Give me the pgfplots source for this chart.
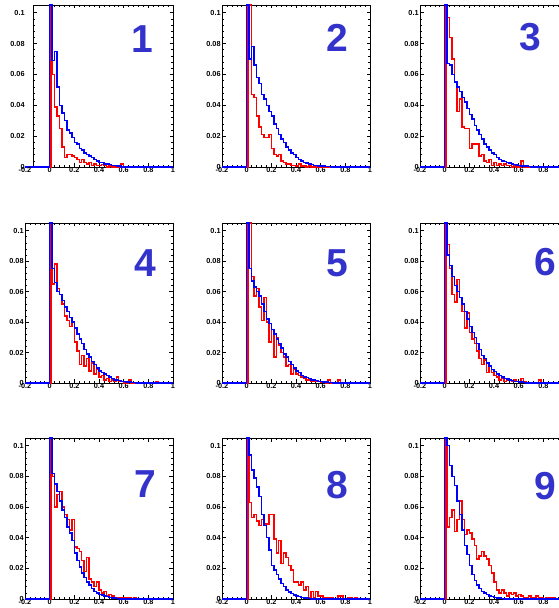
\documentclass[border=0pt]{standalone}
\usepackage{fontspec}
\setmainfont{Liberation Sans}
\usepackage{pgfplots}
\pgfplotsset{compat=1.18}
\definecolor{numblue}{RGB}{51,51,204}
\pgfplotsset{
 rootpanel/.style={
  anchor=south west, scale only axis, width=148pt,
  xmin=-0.2, xmax=1, ymin=0, ymax=0.105, clip=false,
  xtick={-0.2,0,0.2,0.4,0.6,0.8,1}, xticklabels={-0.2,0,0.2,0.4,0.6,0.8,1},
  ytick={0,0.02,0.04,0.06,0.08,0.1}, yticklabels={0,0.02,0.04,0.06,0.08,0.1},
  minor x tick num=4, minor y tick num=4,
  tick align=inside, major tick length=3.5pt, minor tick length=1.8pt,
  tick style={black, line width=0.5pt},
  axis line style={black, line width=0.7pt},
  ticklabel style={font=\fontsize{7.3}{8}\selectfont\bfseries},
  xticklabel style={inner sep=0.6pt},
  yticklabel style={inner sep=1.2pt},
 },
 hb/.style={const plot, blue, line width=1.5pt, mark=none},
 hr/.style={const plot, red, line width=1.5pt, mark=none},
}
\newcommand{\bignum}[2]{\node[numblue, font=\fontsize{39}{39}\selectfont\bfseries, inner sep=0pt] at (#1) {#2};}
\begin{document}
\begin{tikzpicture}[x=1pt,y=1pt]
% ---------- Panel 1 ----------
\begin{axis}[rootpanel, at={(33pt,441pt)}, width=140pt, height=162pt, xmin=-0.135,
  xtick={0,0.2,0.4,0.6,0.8,1}, xticklabels={0,0.2,0.4,0.6,0.8,1},
  yticklabel style={xshift=-7pt}]
\addplot[hr] coordinates {(-0.2,0)(0.012,0.105)(0.02,0.060)(0.04,0.039)(0.06,0.033)(0.08,0.025)(0.10,0.013)(0.12,0.006)(0.14,0.008)(0.16,0.008)(0.18,0.007)(0.20,0.006)(0.22,0.005)(0.24,0.003)(0.26,0.005)(0.28,0.003)(0.30,0.002)(0.32,0.003)(0.34,0.001)(0.36,0.002)(0.38,0.001)(0.40,0.001)(0.42,0.0015)(0.44,0.001)(0.46,0)(0.48,0.0005)(0.50,0)(0.58,0.002)(0.60,0)(1,0)};
\addplot[hb] coordinates {(-0.2,0)(0,0.105)(0.02,0.069)(0.04,0.075)(0.06,0.052)(0.08,0.040)(0.10,0.035)(0.12,0.030)(0.14,0.024)(0.16,0.022)(0.18,0.019)(0.20,0.016)(0.22,0.015)(0.24,0.012)(0.26,0.011)(0.28,0.009)(0.30,0.008)(0.32,0.007)(0.34,0.006)(0.36,0.005)(0.38,0.004)(0.40,0.003)(0.42,0.003)(0.44,0.002)(0.46,0.002)(0.48,0.0015)(0.50,0.001)(0.52,0.001)(0.54,0.0008)(0.56,0.0005)(0.58,0)(1,0)};
\node[anchor=north, font=\fontsize{7.3}{8}\selectfont\bfseries, inner sep=0.6pt] at (axis cs:-0.2,0) {-0.2};
\end{axis}
% ---------- Panel 2 ----------
\begin{axis}[rootpanel, at={(222pt,441pt)}, height=162pt]
\addplot[hr] coordinates {(-0.2,0)(0.012,0.105)(0.02,0.105)(0.04,0.047)(0.06,0.045)(0.08,0.033)(0.10,0.026)(0.12,0.021)(0.14,0.019)(0.16,0.019)(0.18,0.021)(0.20,0.012)(0.22,0.008)(0.24,0.007)(0.26,0.008)(0.28,0.004)(0.30,0.003)(0.32,0.002)(0.34,0.002)(0.36,0.001)(0.38,0.001)(0.40,0.0005)(0.42,0.002)(0.44,0.0005)(0.46,0.0005)(0.48,0)(0.50,0.0005)(0.52,0)(1,0)};
\addplot[hb] coordinates {(-0.2,0)(0,0.105)(0.02,0.070)(0.04,0.078)(0.06,0.066)(0.08,0.058)(0.10,0.054)(0.12,0.047)(0.14,0.044)(0.16,0.040)(0.18,0.036)(0.20,0.033)(0.22,0.028)(0.24,0.025)(0.26,0.021)(0.28,0.018)(0.30,0.016)(0.32,0.013)(0.34,0.011)(0.36,0.009)(0.38,0.008)(0.40,0.006)(0.42,0.005)(0.44,0.004)(0.46,0.003)(0.48,0.0025)(0.50,0.002)(0.52,0.0015)(0.54,0.001)(0.56,0.001)(0.58,0.0007)(0.60,0.0005)(0.62,0.0005)(0.64,0.0003)(0.66,0.0002)(0.68,0)(1,0)};
\end{axis}
% ---------- Panel 3 ----------
\begin{axis}[rootpanel, at={(420pt,441pt)}, height=162pt]
\addplot[hr] coordinates {(-0.2,0)(0.012,0.105)(0.02,0.097)(0.04,0.084)(0.06,0.070)(0.08,0.055)(0.10,0.036)(0.12,0.044)(0.14,0.026)(0.16,0.025)(0.18,0.025)(0.20,0.012)(0.22,0.015)(0.24,0.015)(0.26,0.015)(0.28,0.007)(0.30,0.008)(0.32,0.004)(0.34,0.003)(0.36,0.005)(0.38,0.001)(0.40,0.003)(0.42,0.001)(0.44,0.002)(0.46,0.001)(0.48,0.002)(0.50,0.001)(0.52,0.001)(0.54,0)(0.56,0.0005)(0.58,0)(0.62,0.004)(0.64,0)(1,0)};
\addplot[hb] coordinates {(-0.2,0)(0,0.105)(0.02,0.067)(0.04,0.066)(0.06,0.060)(0.08,0.055)(0.10,0.052)(0.12,0.049)(0.14,0.045)(0.16,0.042)(0.18,0.038)(0.20,0.034)(0.22,0.031)(0.24,0.027)(0.26,0.024)(0.28,0.021)(0.30,0.018)(0.32,0.015)(0.34,0.013)(0.36,0.011)(0.38,0.009)(0.40,0.008)(0.42,0.006)(0.44,0.005)(0.46,0.004)(0.48,0.0035)(0.50,0.003)(0.52,0.0025)(0.54,0.002)(0.56,0.0015)(0.58,0.0012)(0.60,0.001)(0.62,0.0008)(0.64,0.0006)(0.66,0.0005)(0.68,0.0003)(0.70,0)(1,0)};
\end{axis}
% ---------- Panel 4 ----------
\begin{axis}[rootpanel, at={(25pt,225pt)}, height=160pt]
\addplot[hr] coordinates {(-0.2,0)(0.012,0.105)(0.02,0.065)(0.04,0.078)(0.06,0.062)(0.08,0.058)(0.10,0.052)(0.12,0.044)(0.14,0.041)(0.16,0.037)(0.18,0.040)(0.20,0.027)(0.22,0.021)(0.24,0.012)(0.26,0.018)(0.28,0.011)(0.30,0.016)(0.32,0.008)(0.34,0.013)(0.36,0.006)(0.38,0.009)(0.40,0.004)(0.42,0.005)(0.44,0.002)(0.46,0.003)(0.48,0.001)(0.50,0.002)(0.52,0.001)(0.54,0.004)(0.56,0.001)(0.58,0.001)(0.60,0)(0.64,0.002)(0.66,0)(0.86,0.001)(0.88,0)(1,0)};
\addplot[hb] coordinates {(-0.2,0)(0,0.105)(0.02,0.075)(0.04,0.066)(0.06,0.060)(0.08,0.058)(0.10,0.054)(0.12,0.050)(0.14,0.047)(0.16,0.043)(0.18,0.040)(0.20,0.036)(0.22,0.032)(0.24,0.029)(0.26,0.026)(0.28,0.022)(0.30,0.019)(0.32,0.017)(0.34,0.014)(0.36,0.012)(0.38,0.010)(0.40,0.008)(0.42,0.007)(0.44,0.006)(0.46,0.005)(0.48,0.004)(0.50,0.003)(0.52,0.002)(0.54,0.002)(0.56,0.0015)(0.58,0.001)(0.60,0.001)(0.62,0.0007)(0.64,0.0005)(0.66,0.0003)(0.68,0.0002)(0.70,0)(1,0)};
\end{axis}
% ---------- Panel 5 ----------
\begin{axis}[rootpanel, at={(222pt,225pt)}, height=160pt]
\addplot[hr] coordinates {(-0.2,0)(0.012,0.105)(0.02,0.105)(0.04,0.070)(0.06,0.057)(0.08,0.062)(0.10,0.050)(0.12,0.041)(0.14,0.056)(0.16,0.040)(0.18,0.027)(0.20,0.035)(0.22,0.017)(0.24,0.030)(0.26,0.025)(0.28,0.020)(0.30,0.017)(0.32,0.011)(0.34,0.012)(0.36,0.006)(0.38,0.009)(0.40,0.006)(0.42,0.005)(0.44,0.004)(0.46,0.003)(0.48,0.002)(0.50,0.002)(0.52,0.001)(0.54,0.001)(0.56,0.001)(0.58,0.001)(0.60,0.0005)(0.62,0.001)(0.64,0)(0.66,0.002)(0.68,0)(0.74,0.002)(0.76,0)(1,0)};
\addplot[hb] coordinates {(-0.2,0)(0,0.105)(0.02,0.075)(0.04,0.067)(0.06,0.063)(0.08,0.060)(0.10,0.057)(0.12,0.052)(0.14,0.047)(0.16,0.042)(0.18,0.039)(0.20,0.035)(0.22,0.032)(0.24,0.029)(0.26,0.026)(0.28,0.023)(0.30,0.019)(0.32,0.017)(0.34,0.014)(0.36,0.012)(0.38,0.010)(0.40,0.008)(0.42,0.007)(0.44,0.005)(0.46,0.004)(0.48,0.0035)(0.50,0.003)(0.52,0.002)(0.54,0.002)(0.56,0.0015)(0.58,0.001)(0.60,0.001)(0.62,0.0007)(0.64,0.0005)(0.66,0.0003)(0.68,0.0002)(0.70,0)(1,0)};
\end{axis}
% ---------- Panel 6 ----------
\begin{axis}[rootpanel, at={(420pt,225pt)}, height=160pt]
\addplot[hr] coordinates {(-0.2,0)(0.012,0.105)(0.02,0.091)(0.04,0.075)(0.06,0.058)(0.08,0.053)(0.10,0.068)(0.12,0.056)(0.14,0.047)(0.16,0.036)(0.18,0.046)(0.20,0.033)(0.22,0.029)(0.24,0.026)(0.26,0.021)(0.28,0.016)(0.30,0.012)(0.32,0.015)(0.34,0.007)(0.36,0.011)(0.38,0.007)(0.40,0.005)(0.42,0.004)(0.44,0.002)(0.46,0.003)(0.48,0.001)(0.50,0.002)(0.52,0.002)(0.54,0.001)(0.56,0.002)(0.58,0.001)(0.60,0.001)(0.62,0.003)(0.64,0.001)(0.66,0)(0.76,0.002)(0.78,0)(1,0)};
\addplot[hb] coordinates {(-0.2,0)(0,0.105)(0.02,0.084)(0.04,0.077)(0.06,0.070)(0.08,0.064)(0.10,0.060)(0.12,0.056)(0.14,0.052)(0.16,0.047)(0.18,0.042)(0.20,0.037)(0.22,0.033)(0.24,0.030)(0.26,0.026)(0.28,0.022)(0.30,0.018)(0.32,0.016)(0.34,0.013)(0.36,0.011)(0.38,0.009)(0.40,0.0075)(0.42,0.006)(0.44,0.005)(0.46,0.004)(0.48,0.003)(0.50,0.0025)(0.52,0.002)(0.54,0.0015)(0.56,0.001)(0.58,0.001)(0.60,0.0007)(0.62,0.0005)(0.64,0.0003)(0.66,0)(1,0)};
\end{axis}
% ---------- Panel 7 ----------
\begin{axis}[rootpanel, at={(25pt,9pt)}, height=161pt]
\addplot[hr] coordinates {(-0.2,0)(0.012,0.105)(0.02,0.080)(0.04,0.060)(0.06,0.068)(0.08,0.070)(0.10,0.060)(0.12,0.055)(0.14,0.052)(0.16,0.045)(0.18,0.052)(0.20,0.034)(0.22,0.033)(0.24,0.031)(0.26,0.025)(0.28,0.018)(0.30,0.027)(0.32,0.013)(0.34,0.011)(0.36,0.008)(0.38,0.011)(0.40,0.006)(0.42,0.004)(0.44,0.005)(0.46,0.002)(0.48,0.003)(0.50,0.002)(0.52,0.001)(0.54,0.001)(0.56,0.0005)(0.58,0.001)(0.60,0.0005)(0.62,0.0005)(0.64,0.0005)(0.66,0)(0.68,0.0005)(0.70,0)(1,0)};
\addplot[hb] coordinates {(-0.2,0)(0,0.105)(0.02,0.082)(0.04,0.075)(0.06,0.070)(0.08,0.064)(0.10,0.058)(0.12,0.053)(0.14,0.047)(0.16,0.043)(0.18,0.038)(0.20,0.030)(0.22,0.025)(0.24,0.021)(0.26,0.017)(0.28,0.014)(0.30,0.011)(0.32,0.009)(0.34,0.007)(0.36,0.005)(0.38,0.004)(0.40,0.003)(0.42,0.0025)(0.44,0.002)(0.46,0.0015)(0.48,0.001)(0.50,0.0008)(0.52,0.0005)(0.54,0.0003)(0.56,0)(1,0)};
\end{axis}
% ---------- Panel 8 ----------
\begin{axis}[rootpanel, at={(222pt,9pt)}, height=161pt]
\addplot[hr] coordinates {(-0.2,0)(0.012,0.105)(0.02,0.063)(0.04,0.053)(0.06,0.055)(0.08,0.051)(0.10,0.048)(0.12,0.052)(0.14,0.049)(0.16,0.049)(0.18,0.055)(0.20,0.055)(0.22,0.039)(0.24,0.030)(0.26,0.038)(0.28,0.023)(0.30,0.030)(0.32,0.027)(0.34,0.022)(0.36,0.019)(0.38,0.011)(0.40,0.011)(0.42,0.009)(0.44,0.011)(0.46,0.006)(0.48,0.008)(0.50,0.001)(0.52,0.005)(0.54,0.001)(0.56,0.005)(0.58,0.002)(0.60,0.002)(0.62,0.001)(0.64,0.001)(0.66,0.0005)(0.68,0.0005)(0.70,0)(0.74,0.002)(0.76,0.002)(0.78,0)(0.82,0.001)(0.84,0.001)(0.86,0)(0.88,0.001)(0.90,0)(1,0)};
\addplot[hb] coordinates {(-0.2,0)(0,0.105)(0.02,0.094)(0.04,0.084)(0.06,0.079)(0.08,0.073)(0.10,0.067)(0.12,0.055)(0.14,0.048)(0.16,0.040)(0.18,0.032)(0.20,0.022)(0.22,0.019)(0.24,0.016)(0.26,0.013)(0.28,0.010)(0.30,0.008)(0.32,0.006)(0.34,0.0045)(0.36,0.0035)(0.38,0.0025)(0.40,0.002)(0.42,0.0015)(0.44,0.001)(0.46,0.0008)(0.48,0.0005)(0.50,0.0003)(0.52,0)(1,0)};
\end{axis}
% ---------- Panel 9 ----------
\begin{axis}[rootpanel, at={(420pt,9pt)}, height=161pt]
\addplot[hr] coordinates {(-0.2,0)(0.012,0.105)(0.02,0.047)(0.04,0.053)(0.06,0.058)(0.08,0.044)(0.10,0.052)(0.12,0.064)(0.14,0.052)(0.16,0.042)(0.18,0.045)(0.20,0.043)(0.22,0.039)(0.24,0.035)(0.26,0.026)(0.28,0.028)(0.30,0.031)(0.32,0.028)(0.34,0.026)(0.36,0.022)(0.38,0.017)(0.40,0.011)(0.42,0.006)(0.44,0.004)(0.46,0.006)(0.48,0.004)(0.50,0.002)(0.52,0.004)(0.54,0.003)(0.56,0.004)(0.58,0.002)(0.60,0.003)(0.62,0.002)(0.64,0.001)(0.66,0.001)(0.68,0.002)(0.70,0.001)(0.72,0.001)(0.74,0.002)(0.76,0.001)(0.78,0.001)(0.80,0)(0.82,0.001)(0.84,0.001)(0.86,0.0005)(0.88,0.001)(0.90,0)(1,0)};
\addplot[hb] coordinates {(-0.2,0)(0,0.105)(0.02,0.100)(0.04,0.087)(0.06,0.080)(0.08,0.074)(0.10,0.064)(0.12,0.055)(0.14,0.045)(0.16,0.035)(0.18,0.029)(0.20,0.022)(0.22,0.016)(0.24,0.012)(0.26,0.009)(0.28,0.007)(0.30,0.005)(0.32,0.004)(0.34,0.003)(0.36,0.002)(0.38,0.0015)(0.40,0.001)(0.42,0.0008)(0.44,0.0005)(0.46,0.0003)(0.48,0)(1,0)};
\end{axis}
% ---------- big panel numbers ----------
\bignum{142pt,569pt}{1}
\bignum{337pt,570pt}{2}
\bignum{530pt,571pt}{3}
\bignum{145pt,345pt}{4}
\bignum{337pt,345pt}{5}
\bignum{545pt,346pt}{6}
\bignum{145pt,124pt}{7}
\bignum{337pt,123pt}{8}
\bignum{545pt,122pt}{9}
\pgfresetboundingbox
\path[use as bounding box] (0pt,0pt) rectangle (559pt,608pt);
\end{tikzpicture}
\end{document}
